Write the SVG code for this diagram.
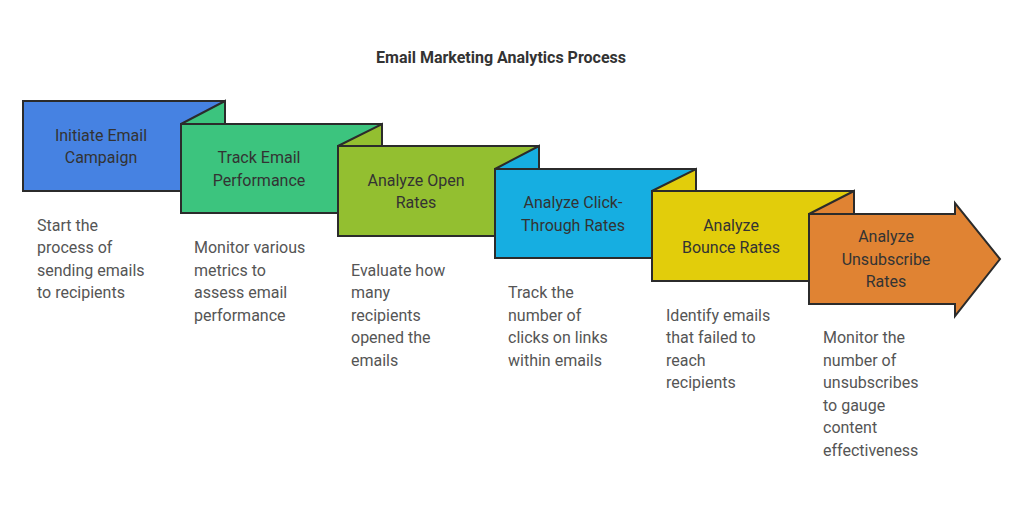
<svg xmlns="http://www.w3.org/2000/svg" width="1024" height="508" viewBox="0 0 1024 508">
<style>
.s{stroke:#2b2b2b;stroke-width:2;stroke-linejoin:miter}
.l{font-family:Roboto,"Liberation Sans",sans-serif;font-size:16px;fill:#333;text-anchor:middle}
.d{font-family:Roboto,"Liberation Sans",sans-serif;font-size:16px;fill:#555}
.t{font-family:Roboto,"Liberation Sans",sans-serif;font-size:16px;font-weight:bold;fill:#333;text-anchor:middle}
</style>
<rect width="1024" height="508" fill="#fff"/>
<text class="t" x="501" y="63">Email Marketing Analytics Process</text>
<g id="n1">
<rect class="s" x="23" y="101" width="202" height="90" fill="#4682e2"/>
<text class="l" x="101" y="141">Initiate Email</text><text class="l" x="101" y="163">Campaign</text>
<text class="d" x="37" y="231">Start the</text><text class="d" x="37" y="253">process of</text><text class="d" x="37" y="276">sending emails</text><text class="d" x="37" y="298">to recipients</text>
</g>
<g id="n2">
<rect class="s" x="181" y="124" width="201" height="89" fill="#3cc47e"/>
<polygon class="s" points="181,124 225,101 225,124" fill="#3cc47e"/>
<text class="l" x="259" y="163">Track Email</text><text class="l" x="259" y="186">Performance</text>
<text class="d" x="194" y="253">Monitor various</text><text class="d" x="194" y="276">metrics to</text><text class="d" x="194" y="298">assess email</text><text class="d" x="194" y="321">performance</text>
</g>
<g id="n3">
<rect class="s" x="338" y="146" width="201" height="90" fill="#93bf30"/>
<polygon class="s" points="338,146 382,124 382,146" fill="#93bf30"/>
<text class="l" x="416" y="186">Analyze Open</text><text class="l" x="416" y="208">Rates</text>
<text class="d" x="351" y="276">Evaluate how</text><text class="d" x="351" y="298">many</text><text class="d" x="351" y="321">recipients</text><text class="d" x="351" y="343">opened the</text><text class="d" x="351" y="366">emails</text>
</g>
<g id="n4">
<rect class="s" x="495" y="169" width="201" height="89" fill="#16aee1"/>
<polygon class="s" points="495,169 539,146 539,169" fill="#16aee1"/>
<text class="l" x="573" y="208">Analyze Click-</text><text class="l" x="573" y="231">Through Rates</text>
<text class="d" x="508" y="298">Track the</text><text class="d" x="508" y="321">number of</text><text class="d" x="508" y="343">clicks on links</text><text class="d" x="508" y="366">within emails</text>
</g>
<g id="n5">
<rect class="s" x="652" y="191" width="202" height="90" fill="#e2cd0b"/>
<polygon class="s" points="652,191 696,169 696,191" fill="#e2cd0b"/>
<text class="l" x="731" y="231">Analyze</text><text class="l" x="731" y="253">Bounce Rates</text>
<text class="d" x="666" y="321">Identify emails</text><text class="d" x="666" y="343">that failed to</text><text class="d" x="666" y="366">reach</text><text class="d" x="666" y="388">recipients</text>
</g>
<g id="n6">
<polygon class="s" points="809,214 955,214 955,203 1000,259 955,316 955,304 809,304" fill="#e08333"/>
<polygon class="s" points="809,214 854,191 854,214" fill="#e08333"/>
<text class="l" x="886" y="242">Analyze</text><text class="l" x="886" y="265">Unsubscribe</text><text class="l" x="886" y="287">Rates</text>
<text class="d" x="823" y="343">Monitor the</text><text class="d" x="823" y="366">number of</text><text class="d" x="823" y="388">unsubscribes</text><text class="d" x="823" y="411">to gauge</text><text class="d" x="823" y="433">content</text><text class="d" x="823" y="456">effectiveness</text>
</g>
<g id="connectors"></g>
</svg>
